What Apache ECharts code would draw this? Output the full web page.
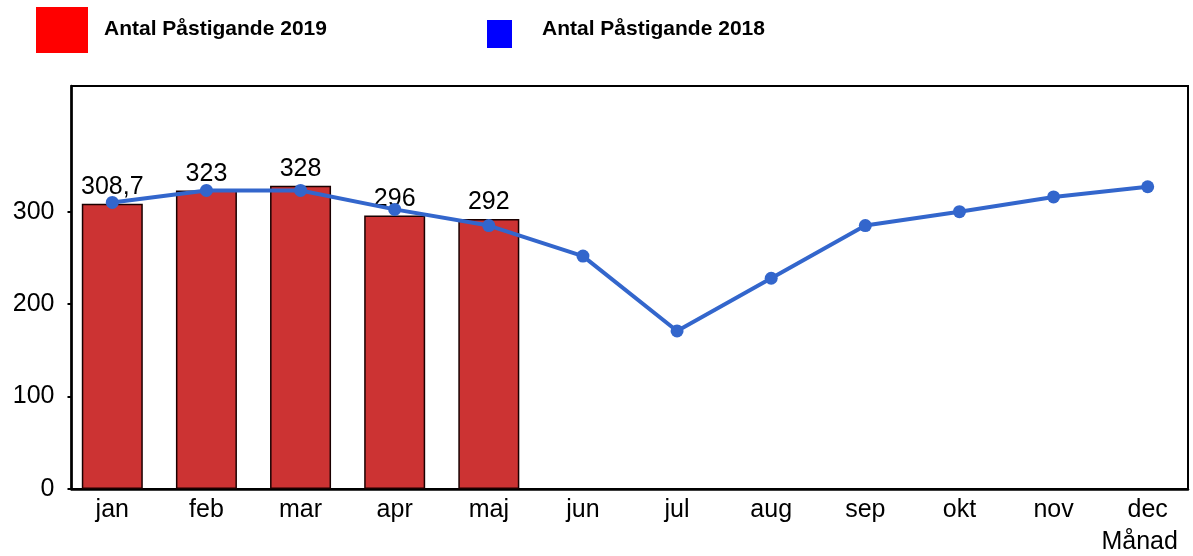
<!DOCTYPE html>
<html>
<head>
<meta charset="utf-8">
<script src="https://cdn.jsdelivr.net/npm/echarts@6/dist/echarts.min.js"></script>
<style>
html,body{margin:0;padding:0;background:#fff;}
#chart{width:1193px;height:556px;}
</style>
</head>
<body>
<div id="chart"></div>
<script>
const months = ['jan','feb','mar','apr','maj','jun','jul','aug','sep','okt','nov','dec'];
const pastigande2019 = [308.7, 323, 328, 296, 292];
const pastigande2018 = [310, 323, 323, 302.5, 285, 252, 171, 228, 285, 300, 316, 327];
const yTicks = [0, 100, 200, 300];
const seriesNames = ['Antal Påstigande 2019', 'Antal Påstigande 2018'];

const FONT = '"Liberation Sans", Arial, sans-serif';
const legendText = (padBottom, padLeft) => ({
  fontFamily: FONT, fontWeight: 'bold', fontSize: 21, color: '#000',
  rich: {t: {fontFamily: FONT, fontWeight: 'bold', fontSize: 21, color: '#000', padding: [0, 0, padBottom, padLeft]}}
});
const chart = echarts.init(document.getElementById('chart'), null, {renderer: 'canvas'});
chart.setOption({
  animation: false,
  backgroundColor: '#ffffff',
  textStyle: {fontFamily: FONT},
  legend: [
    {
      data: [{name: seriesNames[0], icon: 'rect', itemStyle: {color: '#ff0000', borderWidth: 0}}],
      left: 36, top: 7, padding: 0,
      itemWidth: 52, itemHeight: 46,
      selectedMode: false,
      formatter: '{t|{name}}',
      textStyle: legendText(2, 11)
    },
    {
      data: [{name: seriesNames[1], icon: 'rect', itemStyle: {color: '#0000ff', borderWidth: 0}}],
      left: 487, top: 18.5, padding: 0,
      itemWidth: 25, itemHeight: 28,
      selectedMode: false,
      formatter: '{t|{name}}',
      textStyle: legendText(10, 25)
    }
  ],
  grid: [
    {left: 71.5, right: 5, top: 86, bottom: 67, show: true, borderColor: '#000', borderWidth: 2, containLabel: false},
    {left: 112.3, right: 45.3, top: 86, bottom: 67, containLabel: false}
  ],
  xAxis: [
    {
      gridIndex: 0, type: 'category', data: months,
      axisLine: {show: true, lineStyle: {color: '#000', width: 2.5}},
      axisTick: {show: false}, axisLabel: {show: false}, splitLine: {show: false}
    },
    {
      gridIndex: 1, type: 'category', data: months, boundaryGap: false,
      axisLine: {show: false}, axisTick: {show: false}, splitLine: {show: false},
      axisLabel: {fontFamily: FONT, fontSize: 25, color: '#000', margin: 9},
      name: 'Månad', nameLocation: 'end', nameGap: -8,
      nameTextStyle: {fontFamily: FONT, fontSize: 25, color: '#000', align: 'center', verticalAlign: 'top', padding: [41, 0, 0, 0]}
    }
  ],
  yAxis: [
    {
      gridIndex: 0, type: 'value', min: 0, max: 436, interval: 100,
      axisLine: {show: true, lineStyle: {color: '#000', width: 2.5}},
      axisTick: {show: true, length: 4, lineStyle: {color: '#000', width: 2}, customValues: yTicks},
      axisLabel: {fontFamily: FONT, fontSize: 25, color: '#000', margin: 17, customValues: yTicks},
      splitLine: {show: false}
    },
    {gridIndex: 1, type: 'value', min: 0, max: 436, show: false, splitLine: {show: false}}
  ],
  series: [
    {
      name: seriesNames[0], type: 'bar', xAxisIndex: 1, yAxisIndex: 1,
      data: pastigande2019, barWidth: 61,
      itemStyle: {color: '#cc3333', borderColor: '#1a0000', borderWidth: 1.5},
      label: {
        show: true, position: 'top', distance: 4,
        fontFamily: FONT, fontSize: 25, color: '#000',
        formatter: p => String(p.value).replace('.', ',')
      },
      z: 2
    },
    {
      name: seriesNames[1], type: 'line', xAxisIndex: 1, yAxisIndex: 1,
      data: pastigande2018,
      color: '#3366cc',
      lineStyle: {color: '#3366cc', width: 4},
      itemStyle: {color: '#3366cc'},
      symbol: 'circle', symbolSize: 13, showSymbol: true,
      z: 3
    }
  ]
});
</script>
</body>
</html>
